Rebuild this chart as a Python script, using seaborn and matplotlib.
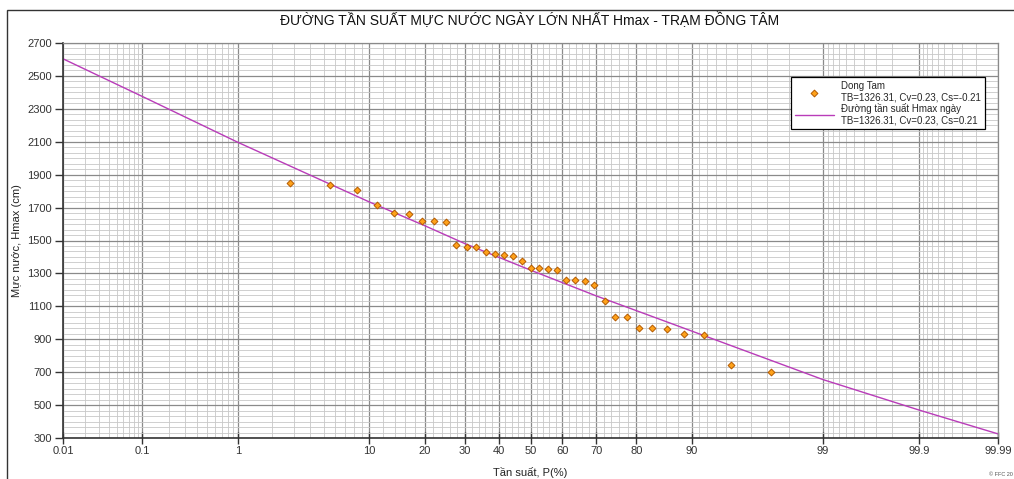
import numpy as np
import pandas as pd
import matplotlib
matplotlib.use('Agg')
import matplotlib.pyplot as plt
import seaborn as sns
from matplotlib.patches import Rectangle
from statistics import NormalDist

# so lieu thuc do (tan suat kinh nghiem, %) va muc nuoc Hmax (cm)
p_obs = [2.78, 5.56, 8.33, 11.11, 13.89, 16.67, 19.44, 22.22, 25.00, 27.78,
         30.56, 33.33, 36.11, 38.89, 41.67, 44.44, 47.22, 50.00, 52.78, 55.56,
         58.33, 61.11, 63.89, 66.67, 69.44, 72.22, 75.00, 77.78, 80.56, 83.33,
         86.11, 88.89, 91.67, 94.44, 97.22]
h_obs = [1850, 1835, 1805, 1715, 1665, 1660, 1620, 1620, 1615, 1470,
         1462, 1458, 1432, 1416, 1412, 1408, 1373, 1331, 1331, 1329,
         1323, 1262, 1260, 1256, 1230, 1134, 1034, 1034, 968, 968,
         962, 930, 928, 744, 703]

# duong tan suat ly luan (doc tren hinh)
p_curve = [0.01, 0.1, 1, 10, 20, 30, 50, 70, 80, 90, 99, 99.9, 99.99]
h_curve = [2604, 2376, 2096, 1734, 1590, 1482, 1320, 1163, 1074, 950, 655, 470, 325]

x_ticks = [0.01, 0.1, 1, 10, 20, 30, 40, 50, 60, 70, 80, 90, 99, 99.9, 99.99]
x_labels = ['0.01', '0.1', '1', '10', '20', '30', '40', '50', '60', '70', '80',
            '90', '99', '99.9', '99.99']

obs = pd.DataFrame({'P': p_obs, 'H': h_obs})
curve = pd.DataFrame({'P': p_curve, 'H': h_curve})

nd = NormalDist()

def prob_fwd(p):
    p = np.asarray(p, dtype=float)
    p = np.where(np.isfinite(p), np.clip(p, 1e-6, 100 - 1e-6), 50.0)
    return np.vectorize(lambda v: nd.inv_cdf(v / 100.0), otypes=[float])(p)

def prob_inv(z):
    z = np.asarray(z, dtype=float)
    z = np.where(np.isfinite(z), z, 0.0)
    return np.vectorize(lambda v: nd.cdf(v) * 100.0, otypes=[float])(z)

sns.set_style('white')
plt.rcParams['font.family'] = ['Liberation Sans', 'DejaVu Sans']

fig = plt.figure(figsize=(10.14, 4.79), dpi=100)
ax = fig.add_axes([63 / 1014, 1 - 438 / 479, 935 / 1014, 395 / 479])

ax.set_xscale('function', functions=(prob_fwd, prob_inv))
ax.set_xlim(0.01, 99.99)
ax.set_ylim(300, 2700)

# luoi
minor_x = list(np.arange(0.02, 0.1, 0.01)) + list(np.arange(0.2, 1.0, 0.1)) + \
    list(range(2, 10)) + list(range(12, 90, 2)) + list(range(91, 99)) + \
    list(np.arange(99.1, 99.9, 0.1)) + list(np.arange(99.91, 99.99, 0.01))
ax.set_xticks(x_ticks)
ax.set_xticklabels(x_labels)
ax.set_xticks(minor_x, minor=True)
ax.set_yticks(np.arange(300, 2701, 200))
ax.set_yticks(np.linspace(300, 2700, 73), minor=True)

ax.grid(which='major', color='#8a8a8a', linewidth=0.9)
ax.grid(which='minor', color='#c8c8c8', linewidth=0.6)
ax.set_axisbelow(True)

sns.lineplot(data=curve, x='P', y='H', ax=ax, color='#b93cb9', linewidth=1.0,
             estimator=None, label='Đường tần suất Hmax ngày\nTB=1326.31, Cv=0.23, Cs=0.21')
sns.scatterplot(data=obs, x='P', y='H', ax=ax, marker='D', s=12,
                color='#ffa21a', edgecolor='#b35a00', linewidth=0.7, zorder=3,
                label='Dong Tam\nTB=1326.31, Cv=0.23, Cs=-0.21')

ax.tick_params(axis='x', which='major', direction='inout', length=8, width=1,
               color='#333333', labelsize=8, labelcolor='#333333', pad=2)
ax.tick_params(axis='y', which='major', direction='out', length=6, width=1,
               color='#333333', labelsize=8, labelcolor='#333333', pad=2)
ax.tick_params(which='minor', length=0)
ax.tick_params(left=True, bottom=True)

for s in ['left', 'bottom']:
    ax.spines[s].set_color('#333333')
    ax.spines[s].set_linewidth(1.2)
for s in ['top', 'right']:
    ax.spines[s].set_color('#8a8a8a')
    ax.spines[s].set_linewidth(0.9)

ax.set_xlabel('Tần suất, P(%)', fontsize=8, color='#222222', labelpad=8)
ax.set_ylabel('Mực nước, Hmax (cm)', fontsize=8, color='#222222', labelpad=4)

handles, labels = ax.get_legend_handles_labels()
leg = ax.legend(handles[::-1], labels[::-1], loc='upper right',
                bbox_to_anchor=(0.991, 0.925), fontsize=7, frameon=True,
                fancybox=False, edgecolor='black', framealpha=1,
                handlelength=4, borderpad=0.35, labelspacing=0.05)
leg.get_frame().set_linewidth(0.9)

fig.text(530 / 1014, 1 - 20 / 479, 'ĐƯỜNG TẦN SUẤT MỰC NƯỚC NGÀY LỚN NHẤT Hmax - TRẠM ĐỒNG TÂM',
         ha='center', va='center', fontsize=10, color='#111111')
fig.text(0.999, 0.004, '© FFC 20', ha='right', va='bottom', fontsize=4, color='#555555')

fig.patches.append(Rectangle((7 / 1014, -0.05), 1.1, 1.05 - 10 / 479,
                             transform=fig.transFigure, fill=False,
                             edgecolor='#333333', linewidth=1.0))

fig.savefig('out.png', dpi=100)
